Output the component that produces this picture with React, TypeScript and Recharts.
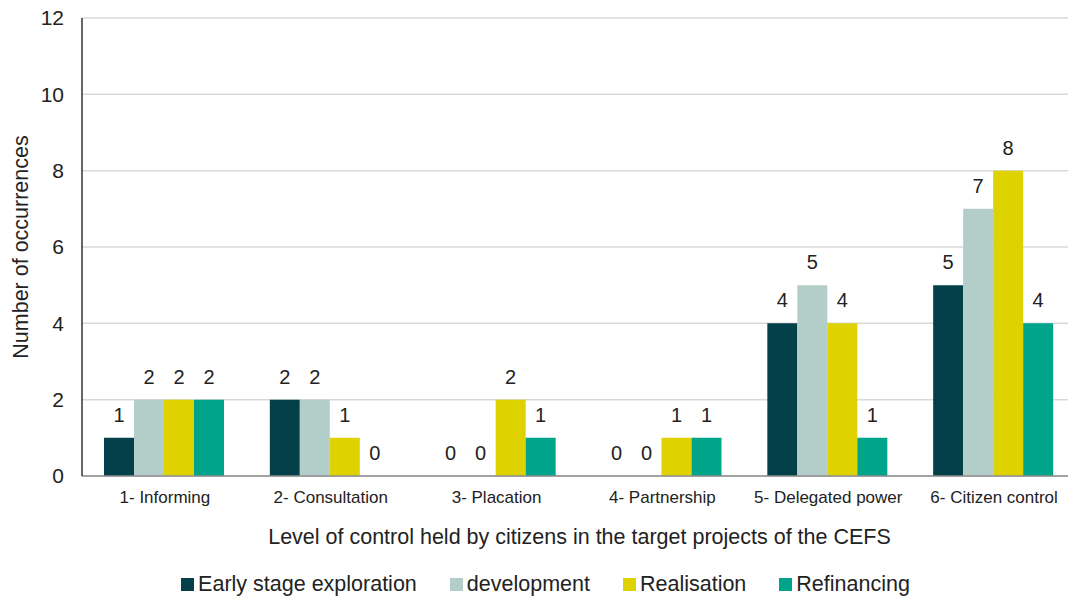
import React from 'react';
import { BarChart, Bar, XAxis, YAxis, CartesianGrid, LabelList, Legend, Label } from 'recharts';

const categories = [
  '1- Informing',
  '2- Consultation',
  '3- Placation',
  '4- Partnership',
  '5- Delegated power',
  '6- Citizen control',
];
const earlyStage = [1, 2, 0, 0, 4, 5];
const development = [2, 2, 0, 0, 5, 7];
const realisation = [2, 1, 2, 1, 4, 8];
const refinancing = [2, 0, 1, 1, 1, 4];
const yTicks = [0, 2, 4, 6, 8, 10, 12];

const series = [
  { key: 'early', name: 'Early stage exploration', color: '#04404A' },
  { key: 'dev', name: 'development', color: '#B3CEC9' },
  { key: 'real', name: 'Realisation', color: '#DED300' },
  { key: 'refi', name: 'Refinancing', color: '#00A48A' },
];

const data = categories.map((c, i) => ({
  name: c,
  early: earlyStage[i],
  dev: development[i],
  real: realisation[i],
  refi: refinancing[i],
}));

const font = '"Liberation Sans", Arial, sans-serif';
const textColor = '#222';

const LegendContent = () => (
  <div
    style={{
      display: 'flex',
      justifyContent: 'center',
      gap: 33,
      fontFamily: font,
      fontSize: 21.5,
      lineHeight: '24px',
      color: textColor,
      paddingLeft: 14,
      marginTop: 2,
    }}
  >
    {series.map((s) => (
      <div key={s.key} style={{ display: 'flex', alignItems: 'center' }}>
        <span style={{ display: 'inline-block', width: 13, height: 13, background: s.color, marginRight: 4 }} />
        <span>{s.name}</span>
      </div>
    ))}
  </div>
);

// draws the value above each bar, zeros included
const renderValue = (props: any) => {
  const { x, y, width, value } = props;
  return (
    <text
      x={Number(x) + Number(width) / 2}
      y={Number(y) - 16}
      textAnchor="middle"
      fill={textColor}
      fontSize={20}
      fontFamily={font}
    >
      {value}
    </text>
  );
};

export default function App() {
  return (
    <div style={{ position: 'absolute', left: 0, top: 0, width: 1068, height: 596, background: '#fff', overflow: 'hidden' }}>
      <BarChart
        width={1068}
        height={596}
        data={data}
        margin={{ top: 18, right: -9, bottom: 0, left: 0 }}
        barCategoryGap={22}
        barGap={0}
      >
        <CartesianGrid vertical={false} stroke="#d9d9d9" strokeWidth={1.5} />
        <XAxis
          dataKey="name"
          height={94}
          tickLine={false}
          stroke="#8c8c8c"
          strokeWidth={1.5}
          tickSize={0}
          tickMargin={15}
          tick={{ fill: textColor, fontSize: 17, fontFamily: font }}
          interval={0}
        >
          <Label
            value="Level of control held by citizens in the target projects of the CEFS"
            position="insideBottom"
            offset={26}
            style={{ fill: textColor, fontSize: 21.5, fontFamily: font }}
          />
        </XAxis>
        <YAxis
          width={82}
          domain={[0, 12]}
          ticks={yTicks}
          tickLine={false}
          stroke="#000"
          strokeWidth={1.2}
          tickSize={0}
          tickMargin={18}
          tick={{ fill: textColor, fontSize: 21, fontFamily: font }}
        >
          <Label
            value="Number of occurrences"
            angle={-90}
            position="insideLeft"
            offset={20}
            style={{ textAnchor: 'middle', fill: textColor, fontSize: 21.5, fontFamily: font }}
          />
        </YAxis>
        <Legend verticalAlign="bottom" height={26} content={<LegendContent />} />
        {series.map((s) => (
          <Bar
            key={s.key}
            dataKey={s.key}
            name={s.name}
            fill={s.color}
            minPointSize={0.01}
            isAnimationActive={false}
          >
            <LabelList dataKey={s.key} content={renderValue} />
          </Bar>
        ))}
      </BarChart>
    </div>
  );
}
